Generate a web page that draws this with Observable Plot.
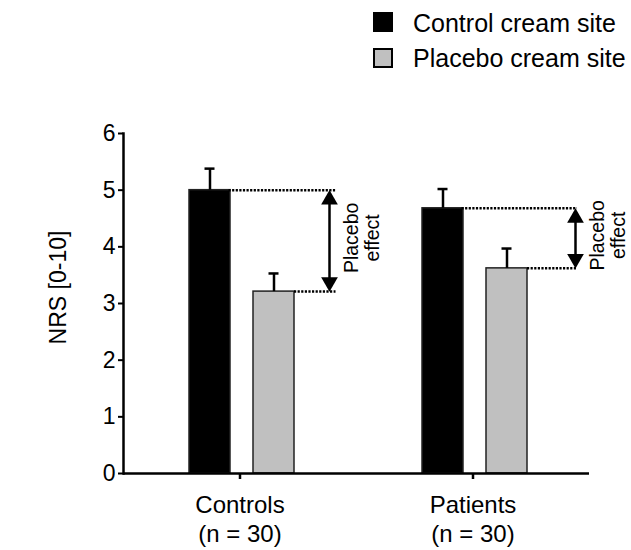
<!DOCTYPE html>
<html><head><meta charset="utf-8">
<script src="https://cdn.jsdelivr.net/npm/d3@7"></script>
<script src="https://cdn.jsdelivr.net/npm/@observablehq/plot@0.6"></script>
<style>
body{margin:0;background:#fff;font-family:"Liberation Sans",Arial,sans-serif;color:#000;}
#wrap{position:relative;width:631px;height:550px;overflow:hidden;}
#legend{position:relative;height:95px;}
.sw{position:absolute;left:373px;width:16px;height:16px;border:2px solid #000;}
.lt{position:absolute;left:413px;font-size:25px;line-height:1;white-space:nowrap;}
</style></head><body>
<div id="wrap"><div id="legend"></div><div id="chart"></div></div>
<script>
// ---- data ----
const groups = ["Controls", "Patients"];
const groupLabels = ["Controls\n(n = 30)", "Patients\n(n = 30)"];
const series = ["Control cream site", "Placebo cream site"];
const controlCream = [5.0, 4.68];
const controlCreamErr = [0.38, 0.34];
const placeboCream = [3.21, 3.62];
const placeboCreamErr = [0.32, 0.35];
const yTicks = [0, 1, 2, 3, 4, 5, 6];
const seriesColors = ["#000000", "#c0c0c0"];
const effectText = "Placebo\neffect";
const yLabel = "NRS [0-10]";

// ---- tables built from the arrays ----
const rows = [];
groups.forEach((g, i) => {
  rows.push({group: g, series: series[0], value: controlCream[i], err: controlCreamErr[i]});
  rows.push({group: g, series: series[1], value: placeboCream[i], err: placeboCreamErr[i]});
});
const effects = groups.map((g, i) => ({group: g, high: controlCream[i], low: placeboCream[i], mid: (controlCream[i] + placeboCream[i]) / 2}));
const labelOf = new Map(groups.map((g, i) => [g, groupLabels[i]]));

// ---- legend (HTML) ----
const legend = document.getElementById("legend");
series.forEach((s, i) => {
  const sw = document.createElement("div");
  sw.className = "sw";
  sw.style.top = (12 + i * 36) + "px";
  sw.style.background = seriesColors[i];
  legend.appendChild(sw);
  const t = document.createElement("div");
  t.className = "lt";
  t.style.top = (11 + i * 35) + "px";
  t.textContent = s;
  legend.appendChild(t);
});

// ---- annotation builder (per group, offsets are styling) ----
function annotation(g, arrowDx, lineExt) {
  const d = effects.filter(e => e.group === g);
  const dash = {stroke: "#000", strokeWidth: 2.5, strokeDasharray: "2.2,1.4"};
  return [
    Plot.ruleY(d, {fx: "group", y: "high", x1: () => series[1], x2: () => series[1], insetLeft: -24.5, insetRight: -lineExt, ...dash}),
    Plot.ruleY(d, {fx: "group", y: "low", x1: () => series[1], x2: () => series[1], insetLeft: 41, insetRight: -lineExt, ...dash}),
    Plot.ruleX(d, {fx: "group", x: () => series[1], y1: "high", y2: "low", dx: arrowDx, insetTop: 9, insetBottom: 9, stroke: "#000", strokeWidth: 2.5}),
    Plot.dot(d, {fx: "group", x: () => series[1], y: "high", dx: arrowDx, dy: 9.6, symbol: "triangle", r: 6.2, fill: "#000", stroke: null}),
    Plot.dot(d, {fx: "group", x: () => series[1], y: "low", dx: arrowDx, dy: -9.6, symbol: "triangle", rotate: 180, r: 6.2, fill: "#000", stroke: null}),
    Plot.text(d, {fx: "group", x: () => series[1], y: "mid", text: () => effectText, rotate: -90, dx: arrowDx + 32, dy: -3, fontSize: 19.5, lineHeight: 1.1, fill: "#000"})
  ];
}

const chart = Plot.plot({
  width: 631,
  height: 455,
  marginLeft: 122,
  marginRight: 42,
  marginTop: 38,
  marginBottom: 77,
  style: {fontFamily: "'Liberation Sans', Arial, sans-serif", color: "#000", background: "#fff", overflow: "visible"},
  fx: {domain: groups, padding: 0, label: null},
  x: {domain: series, paddingInner: 0.364, paddingOuter: 0.99, align: 0.515, axis: null},
  y: {domain: [0, 6], label: null},
  color: {domain: series, range: seriesColors},
  marks: [
    Plot.axisY({ticks: yTicks, tickSize: 5, tickPadding: 3, strokeWidth: 2, fontSize: 23, label: null, tickFormat: d => String(d)}),
    Plot.text([yLabel], {fx: () => groups[0], frameAnchor: "left", textAnchor: "middle", rotate: -90, dx: -65, dy: -16, fontSize: 23, fill: "#000"}),
    Plot.axisFx({anchor: "bottom", tickSize: 0, tickPadding: 19, fontSize: 24, lineHeight: 1.2, label: null, tickFormat: g => labelOf.get(g)}),
    Plot.barY(rows, {fx: "group", x: "series", y: "value", fill: "series", stroke: "#222", strokeWidth: 1.5}),
    Plot.ruleX(rows, {fx: "group", x: "series", y1: "value", y2: d => d.value + d.err, stroke: "#000", strokeWidth: 2.5}),
    Plot.tickY(rows, {fx: "group", x: "series", y: d => d.value + d.err, insetLeft: 15.5, insetRight: 15.5, stroke: "#000", strokeWidth: 2.5}),
    Plot.frame({anchor: "left", facetAnchor: "left", stroke: "#000", strokeWidth: 2.5}),
    Plot.ruleY([0], {stroke: "#000", strokeWidth: 2.5}),
    Plot.ruleX(groups, {fx: d => d, x: null, y1: 0, y2: 0, insetBottom: -6, stroke: "#000", strokeWidth: 2.5}),
    ...annotation("Controls", 55.5, 41.5),
    ...annotation("Patients", 68.5, 50)
  ]
});
document.getElementById("chart").appendChild(chart);
</script>
</body></html>
